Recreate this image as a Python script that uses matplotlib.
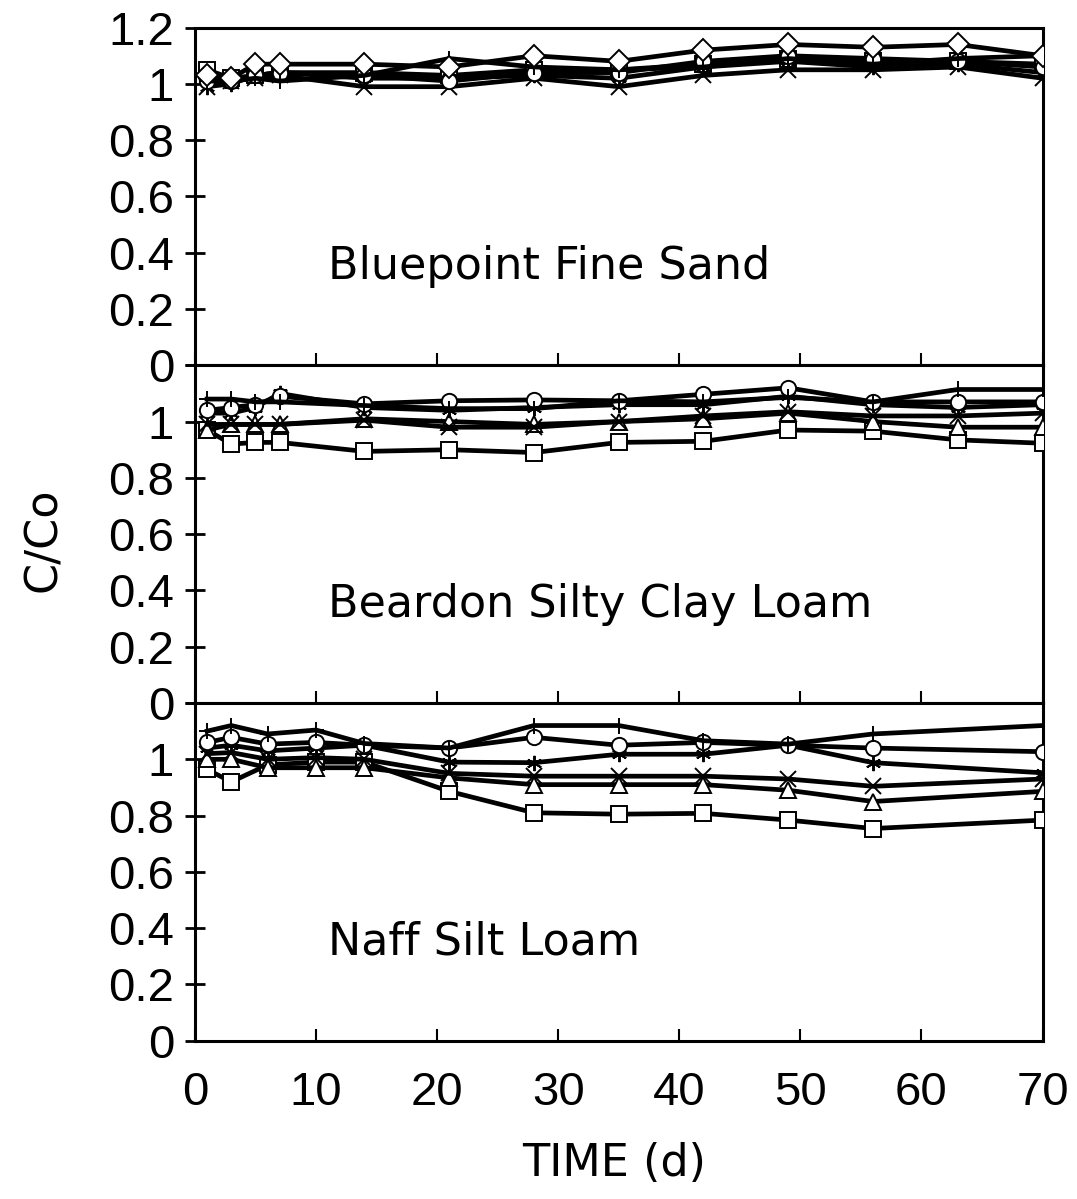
import matplotlib.pyplot as plt

# Relative concentration (C/Co) over time for three soils.
days = [1, 3, 5, 7, 14, 21, 28, 35, 42, 49, 56, 63, 70]
days_naff = [1, 3, 6, 10, 14, 21, 28, 35, 42, 49, 56, 70]

# Bluepoint Fine Sand
blue_square = [1.05, 1.02, 1.03, 1.04, 1.04, 1.03, 1.05, 1.05, 1.07, 1.09, 1.08, 1.08, 1.07]
blue_diamond = [1.03, 1.02, 1.07, 1.07, 1.07, 1.06, 1.10, 1.08, 1.12, 1.14, 1.13, 1.14, 1.10]
blue_plus = [1.01, 1.01, 1.02, 1.01, 1.03, 1.09, 1.06, 1.05, 1.06, 1.09, 1.07, 1.09, 1.10]
blue_circle = [1.01, 1.01, 1.03, 1.04, 1.03, 1.01, 1.04, 1.04, 1.08, 1.10, 1.09, 1.08, 1.06]
blue_x = [0.99, 1.01, 1.02, 1.03, 0.99, 0.99, 1.02, 0.99, 1.03, 1.05, 1.05, 1.06, 1.02]
blue_star = [0.99, 1.00, 1.03, 1.04, 1.02, 1.02, 1.03, 1.02, 1.06, 1.08, 1.06, 1.07, 1.04]

# Beardon Silty Clay Loam
bear_square = [0.97, 0.92, 0.926, 0.926, 0.894, 0.90, 0.89, 0.926, 0.93, 0.97, 0.966, 0.935, 0.923]
bear_triangle = [0.97, 0.99, 0.99, 0.99, 1.01, 1.00, 0.99, 1.00, 1.01, 1.03, 1.00, 0.98, 0.98]
bear_x = [0.99, 0.99, 0.99, 0.99, 1.005, 0.98, 0.98, 1.00, 1.02, 1.035, 1.02, 1.02, 1.03]
bear_star = [1.03, 1.03, 1.05, 1.10, 1.05, 1.04, 1.05, 1.06, 1.06, 1.09, 1.06, 1.05, 1.06]
bear_circle = [1.04, 1.05, 1.06, 1.09, 1.063, 1.074, 1.077, 1.074, 1.097, 1.12, 1.07, 1.07, 1.07]
bear_plus = [1.08, 1.08, 1.07, 1.07, 1.057, 1.046, 1.046, 1.074, 1.07, 1.086, 1.07, 1.114, 1.114]

# Naff Silt Loam
naff_square = [0.964, 0.92, 0.98, 0.99, 0.99, 0.886, 0.81, 0.805, 0.808, 0.784, 0.754, 0.784]
naff_triangle = [1.00, 1.00, 0.97, 0.97, 0.97, 0.934, 0.91, 0.91, 0.91, 0.89, 0.85, 0.886]
naff_x = [1.02, 1.024, 1.00, 1.006, 1.00, 0.95, 0.94, 0.94, 0.94, 0.93, 0.904, 0.93]
naff_star = [1.04, 1.05, 1.03, 1.04, 1.05, 0.99, 0.988, 1.018, 1.018, 1.05, 0.988, 0.952]
naff_circle = [1.06, 1.078, 1.054, 1.06, 1.05, 1.04, 1.078, 1.05, 1.06, 1.05, 1.04, 1.027]
naff_plus = [1.10, 1.12, 1.09, 1.104, 1.056, 1.04, 1.12, 1.12, 1.066, 1.054, 1.09, 1.12]

panel_names = ['Bluepoint Fine Sand', 'Beardon Silty Clay Loam', 'Naff Silt Loam']
y_ticks = [0, 0.2, 0.4, 0.6, 0.8, 1, 1.2]
x_ticks = [0, 10, 20, 30, 40, 50, 60, 70]

STAR = (6, 2, 0)
TICK_FONT = 'Liberation Sans'
TEXT_FONT = 'DejaVu Sans'


def draw_series(ax, x, y, marker):
    ax.plot(x, y, color='black', linewidth=3.4, marker=marker, markersize=11,
            markerfacecolor='white', markeredgecolor='black', markeredgewidth=1.4,
            zorder=3)


fig = plt.figure(figsize=(10.77, 11.99), dpi=100)
gs = fig.add_gridspec(3, 1, left=0.181, right=0.968, bottom=0.132, top=0.977, hspace=0)
axes = [fig.add_subplot(gs[i]) for i in range(3)]

panels = [
    (days, [(blue_square, 's'), (blue_star, STAR), (blue_x, 'x'), (blue_circle, 'o'),
            (blue_plus, '+'), (blue_diamond, 'D')]),
    (days, [(bear_square, 's'), (bear_triangle, '^'), (bear_x, 'x'), (bear_star, STAR),
            (bear_circle, 'o'), (bear_plus, '+')]),
    (days_naff, [(naff_square, 's'), (naff_triangle, '^'), (naff_x, 'x'), (naff_star, STAR),
                 (naff_circle, 'o'), (naff_plus, '+')]),
]

for i, (ax, (x, series)) in enumerate(zip(axes, panels)):
    for y, m in series:
        draw_series(ax, x, y, m)
    ax.set_xlim(0, 70)
    ax.set_ylim(0, 1.2)
    ax.set_yticks(y_ticks)
    labels = ['0', '0.2', '0.4', '0.6', '0.8', '1', '1.2']
    if i > 0:
        labels[-1] = ''
    ax.set_yticklabels(labels, fontsize=34, family=TICK_FONT)
    ax.set_xticks(x_ticks)
    ax.tick_params(axis='y', direction='inout', length=14, width=2, pad=8)
    ax.tick_params(axis='x', direction='in', length=9, width=1.5, pad=22)
    if i < 2:
        ax.set_xticklabels([])
    else:
        ax.set_xticklabels([str(t) for t in x_ticks], fontsize=34, family=TICK_FONT)
    for side in ax.spines.values():
        side.set_linewidth(2.2)
    ax.text(11, 0.35, panel_names[i], fontsize=32, family=TEXT_FONT, ha='left', va='center')

fig.text(0.04, 0.55, 'C/Co', rotation=90, fontsize=32, family=TEXT_FONT, ha='center', va='center')
fig.text(0.57, 0.03, 'TIME (d)', fontsize=32, family=TEXT_FONT, ha='center', va='center')

plt.savefig('out.png', dpi=100)
